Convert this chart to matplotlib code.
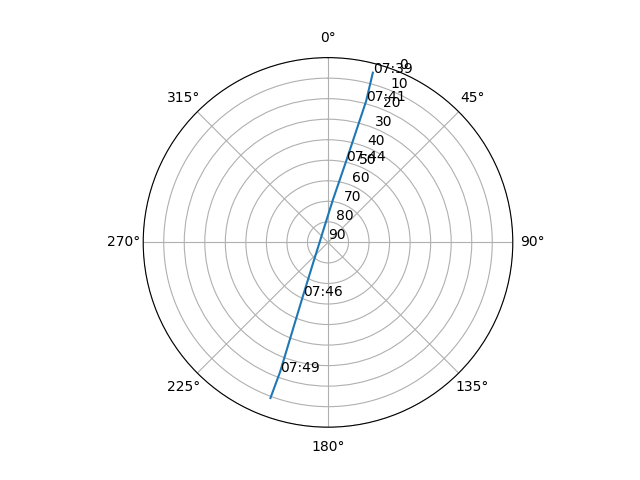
import numpy as np
import matplotlib.pyplot as plt

# pass track: azimuth (deg), elevation (deg)
azimuth = [14.8, 15.1, 12.6, 6.4, 349.3, 270.0, 218.1, 205.0, 200.3, 200.3]
elevation = [4.5, 18.7, 49.4, 69.4, 81.6, 85.9, 78.9, 61.0, 22.8, 9.2]
times = ["07:39", "07:41", "07:44", "", "", "", "", "07:46", "07:49", ""]

theta = np.unwrap(np.radians(azimuth))

fig = plt.figure(figsize=(6.4, 4.8))
ax = fig.add_subplot(projection="polar")
ax.set_theta_zero_location("N")
ax.set_theta_direction(-1)
ax.plot(theta, elevation)
ax.set_rlim(90, 0)
ax.set_yticks(range(0, 91, 10))

for t, r, label in zip(theta, elevation, times):
    if label:
        ax.annotate(label, (t, r))

fig.savefig("out.png")
